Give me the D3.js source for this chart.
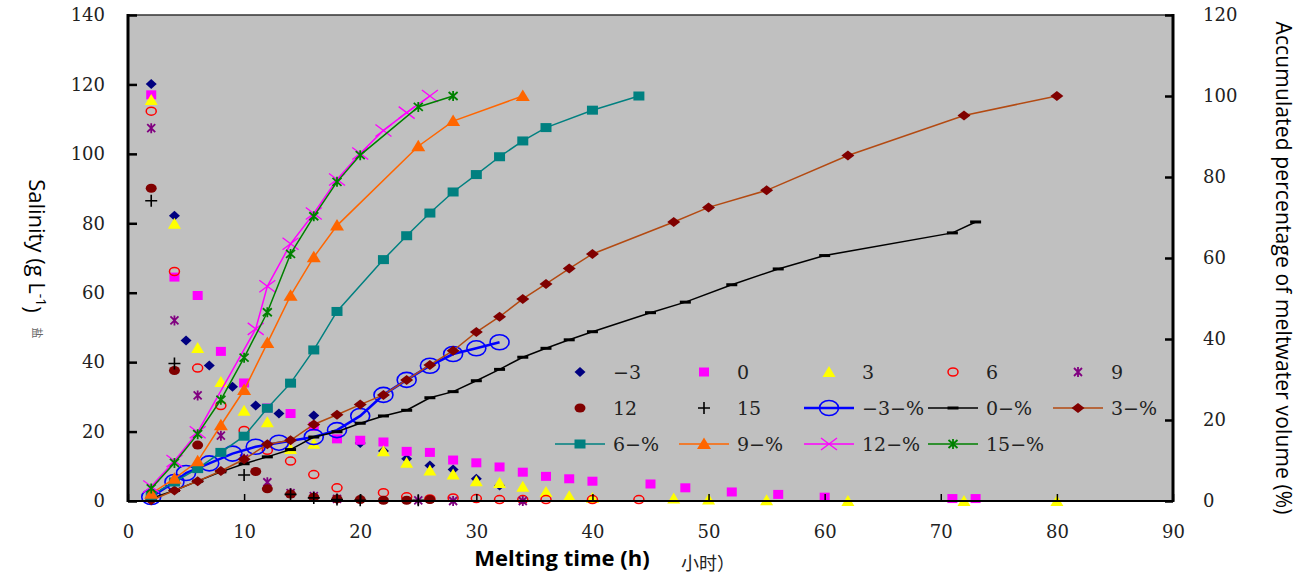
<!DOCTYPE html>
<html>
<head>
<meta charset="utf-8">
<title>Salinity and meltwater</title>
<script src="https://cdn.jsdelivr.net/npm/d3@7/dist/d3.min.js"></script>
<style>
  body { margin: 0; background: #fff; }
  svg { display: block; }
  .tick { font-family: "DejaVu Serif", serif; font-size: 18px; fill: #222; }
  .leg { font-family: "DejaVu Serif", serif; font-size: 19px; fill: #222; }
</style>
</head>
<body>
<script>
// ---- salinity of meltwater (g/L), left axis ----
var tM3 = [2,4,5,7,9,11,13,16,20,22,24,26,28,30,32];
var sM3 = [120.1,82.2,46.2,39,32.9,27.5,25.2,24.6,16.7,14.4,12.2,10.2,9.1,6.4,4.5];
var t0 = [2,4,6,8,10,12,14,16,18,20,22,24,26,28,30,32,34,36,38,40,45,48,52,56,60,71,73];
var s0 = [117,64.5,59.2,43.1,34,26.8,25.2,21.5,17.9,17.5,17,14.3,14,11.8,11,9.8,8.3,7.1,6.4,5.7,4.9,3.8,2.6,1.9,1.1,0.7,0.7];
var t3 = [2,4,6,8,10,12,14,16,22,24,26,28,30,32,34,36,38,40,47,50,55,62,72,80];
var s3 = [115.5,79.9,44.1,34.3,26,22.7,15,16.5,14.3,11,8.8,7.6,5.7,5.2,4.1,2.6,1.4,0.9,0.7,0.4,0.2,0,0,0];
var t6 = [2,4,6,8,10,12,14,16,18,22,24,26,28,30,32,34,36,40,44];
var s6 = [112.3,66.1,38.3,27.5,20.3,14.6,11.5,7.6,3.8,2.4,1.2,0.6,0.9,0.7,0.4,0.4,0.4,0.4,0.4];
var t9 = [2,4,6,8,10,12,14,16,18,25,28,34];
var s9 = [107.4,52,30.4,18.8,12.2,5.4,2.3,1.4,0.6,0.2,0,0];
var t12 = [2,4,6,11,12,14,16,18,20,22,24,26];
var s12 = [90.1,37.6,16.1,8.5,3.5,2.0,1.1,0.6,0.4,0.2,0.2,0.4];
var t15 = [2,4,10,14,16,18,20,25];
var s15 = [86.5,39.6,7.5,1.9,0.9,0.4,0.2,0.2];

// ---- accumulated meltwater volume (%), right axis ----
var pM3 = [1.0,4.7,6.9,9.3,11.7,13.4,14.4,15.8,17.5,21.0,26.2,29.9,33.4,36.3,37.7,39.2];
var ptM3 = [2,4,5,7,9,11,13,16,18,20,22,24,26,28,30,32];
var p0 = [0.6,2.6,4.9,7.2,9.2,10.9,12.7,15.8,17.1,19.2,21.0,22.4,25.5,27.0,29.7,32.5,35.5,37.7,39.8,41.8,46.5,49.1,53.4,57.3,60.6,66.2,68.9];
var pt3 = [2,4,6,8,10,12,14,16,18,20,22,24,26,28,30,32,34,36,38,40,47,50,55,62,72,80];
var p3 = [0.2,2.6,4.9,7.4,10.3,14.0,15.0,18.9,21.3,23.8,26.2,29.9,33.6,37.1,41.7,45.5,49.9,53.6,57.4,61.0,68.9,72.5,76.7,85.3,95.2,100];
var p6 = [1.4,4.7,8.0,12.0,16.0,22.9,29.1,37.3,46.8,59.6,65.5,71.1,76.3,80.6,85.0,88.9,92.2,96.5,100];
var pt9 = [2,4,6,8,10,12,14,16,18,25,28,34];
var p9 = [1.8,5.5,9.8,18.7,27.4,39.0,50.7,60.2,68.0,87.6,93.8,100];
var p12 = [3.6,9.9,17.0,42.5,53.0,63.5,71.0,79.4,85.8,91.5,95.9,100];
var pt15 = [2,4,6,8,10,12,14,16,18,20,25,28];
var p15 = [3.1,9.4,16.5,25.0,35.4,46.6,61.0,70.3,78.8,85.4,97.3,100];

var xTicks = [0,10,20,30,40,50,60,70,80,90];
var yLTicks = [0,20,40,60,80,100,120,140];
var yRTicks = [0,20,40,60,80,100,120];

var W = 1298, H = 577;
var L = 128, R = 1173, T = 15, B = 501;

var x = d3.scaleLinear().domain([0, 90]).range([L, R]);
var yL = d3.scaleLinear().domain([0, 140]).range([B, T]);
var yR = d3.scaleLinear().domain([0, 120]).range([B, T]);

var svg = d3.select('body').append('svg').attr('width', W).attr('height', H);

svg.append('rect').attr('x', L).attr('y', T).attr('width', R - L).attr('height', B - T)
  .attr('fill', '#c0c0c0');

// marker painter
function marker(g, type, cx, cy) {
  switch (type) {
    case 'diamond':
      g.append('path').attr('d', 'M' + cx + ',' + (cy - 5) + 'L' + (cx + 5.5) + ',' + cy + 'L' + cx + ',' + (cy + 5) + 'L' + (cx - 5.5) + ',' + cy + 'Z')
        .attr('fill', '#000080'); break;
    case 'square':
      g.append('rect').attr('x', cx - 5).attr('y', cy - 4.5).attr('width', 10).attr('height', 9).attr('fill', '#ff00ff'); break;
    case 'triangle':
      g.append('path').attr('d', 'M' + cx + ',' + (cy - 6) + 'L' + (cx + 6.5) + ',' + (cy + 5) + 'L' + (cx - 6.5) + ',' + (cy + 5) + 'Z')
        .attr('fill', '#ffff00'); break;
    case 'ring':
      g.append('ellipse').attr('cx', cx).attr('cy', cy).attr('rx', 5).attr('ry', 4)
        .attr('fill', 'none').attr('stroke', '#ff0000').attr('stroke-width', 1.5); break;
    case 'star9':
      g.append('path').attr('d', 'M' + (cx - 4) + ',' + (cy - 4) + 'L' + (cx + 4) + ',' + (cy + 4) + 'M' + (cx + 4) + ',' + (cy - 4) + 'L' + (cx - 4) + ',' + (cy + 4) + 'M' + cx + ',' + (cy - 5) + 'L' + cx + ',' + (cy + 5))
        .attr('stroke', '#800080').attr('stroke-width', 1.8); break;
    case 'dot':
      g.append('ellipse').attr('cx', cx).attr('cy', cy).attr('rx', 5.5).attr('ry', 4.5).attr('fill', '#800000'); break;
    case 'plus':
      g.append('path').attr('d', 'M' + (cx - 6) + ',' + cy + 'L' + (cx + 6) + ',' + cy + 'M' + cx + ',' + (cy - 6) + 'L' + cx + ',' + (cy + 6))
        .attr('stroke', '#000').attr('stroke-width', 1.6); break;
    case 'bigring':
      g.append('ellipse').attr('cx', cx).attr('cy', cy).attr('rx', 9.5).attr('ry', 7.5)
        .attr('fill', 'none').attr('stroke', '#0000ff').attr('stroke-width', 1.6); break;
    case 'dash':
      g.append('rect').attr('x', cx - 5.5).attr('y', cy - 1.5).attr('width', 11).attr('height', 3).attr('fill', '#000'); break;
    case 'rdiamond':
      g.append('path').attr('d', 'M' + cx + ',' + (cy - 5) + 'L' + (cx + 6.5) + ',' + cy + 'L' + cx + ',' + (cy + 5) + 'L' + (cx - 6.5) + ',' + cy + 'Z')
        .attr('fill', '#800000'); break;
    case 'tsquare':
      g.append('rect').attr('x', cx - 5.5).attr('y', cy - 4.5).attr('width', 11).attr('height', 9).attr('fill', '#008080'); break;
    case 'otriangle':
      g.append('path').attr('d', 'M' + cx + ',' + (cy - 6.5) + 'L' + (cx + 7) + ',' + (cy + 5) + 'L' + (cx - 7) + ',' + (cy + 5) + 'Z')
        .attr('fill', '#ff6600'); break;
    case 'cross':
      g.append('path').attr('d', 'M' + (cx - 8) + ',' + (cy - 6) + 'L' + (cx + 8) + ',' + (cy + 6) + 'M' + (cx + 8) + ',' + (cy - 6) + 'L' + (cx - 8) + ',' + (cy + 6))
        .attr('stroke', '#ff00ff').attr('stroke-width', 1.3); break;
    case 'gstar':
      g.append('path').attr('d', 'M' + (cx - 4.5) + ',' + (cy - 4) + 'L' + (cx + 4.5) + ',' + (cy + 4) + 'M' + (cx + 4.5) + ',' + (cy - 4) + 'L' + (cx - 4.5) + ',' + (cy + 4) + 'M' + cx + ',' + (cy - 5) + 'L' + cx + ',' + (cy + 5))
        .attr('stroke', '#008000').attr('stroke-width', 1.8); break;
  }
}

var scatter = [
  { name: '\u22123', t: tM3, v: sM3, m: 'diamond' },
  { name: '0', t: t0, v: s0, m: 'square' },
  { name: '3', t: t3, v: s3, m: 'triangle' },
  { name: '6', t: t6, v: s6, m: 'ring' },
  { name: '9', t: t9, v: s9, m: 'star9' },
  { name: '12', t: t12, v: s12, m: 'dot' },
  { name: '15', t: t15, v: s15, m: 'plus' }
];
var lines = [
  { name: '\u22123\u2212%', t: ptM3, v: pM3, m: 'bigring', c: '#0000ff', w: 2.6 },
  { name: '0\u2212%', t: t0, v: p0, m: 'dash', c: '#000000', w: 1.5 },
  { name: '3\u2212%', t: pt3, v: p3, m: 'rdiamond', c: '#b34a12', w: 1.5 },
  { name: '6\u2212%', t: t6, v: p6, m: 'tsquare', c: '#008080', w: 1.5 },
  { name: '9\u2212%', t: pt9, v: p9, m: 'otriangle', c: '#ff6600', w: 1.5 },
  { name: '12\u2212%', t: t12, v: p12, m: 'cross', c: '#ff00ff', w: 1.5 },
  { name: '15\u2212%', t: pt15, v: p15, m: 'gstar', c: '#008000', w: 1.5 }
];

var plot = svg.append('g');
scatter.forEach(function (s) {
  var g = plot.append('g');
  s.t.forEach(function (t, i) { marker(g, s.m, x(t), yL(s.v[i])); });
});
var line = d3.line().x(function (d) { return x(d[0]); }).y(function (d) { return yR(d[1]); });
lines.forEach(function (s) {
  var g = plot.append('g');
  var pts = s.t.map(function (t, i) { return [t, s.v[i]]; });
  g.append('path').attr('d', line(pts)).attr('fill', 'none').attr('stroke', s.c).attr('stroke-width', s.w);
  pts.forEach(function (p) { marker(g, s.m, x(p[0]), yR(p[1])); });
});

// frame
svg.append('line').attr('x1', L).attr('x2', R).attr('y1', T).attr('y2', T).attr('stroke', '#333').attr('stroke-width', 1.5);
svg.append('line').attr('x1', L).attr('x2', R).attr('y1', B).attr('y2', B).attr('stroke', '#000').attr('stroke-width', 2);
svg.append('line').attr('x1', L).attr('x2', L).attr('y1', T - 1).attr('y2', B + 1).attr('stroke', '#000').attr('stroke-width', 3);
svg.append('line').attr('x1', R).attr('x2', R).attr('y1', T - 1).attr('y2', B + 1).attr('stroke', '#000').attr('stroke-width', 3);

// axes
var axL = d3.axisLeft(yL).tickValues(yLTicks).tickSize(-9).tickPadding(23);
var gL = svg.append('g').attr('transform', 'translate(' + L + ',0)').call(axL);
var axR = d3.axisRight(yR).tickValues(yRTicks).tickSize(-8).tickPadding(30);
var gR = svg.append('g').attr('transform', 'translate(' + R + ',0)').call(axR);
var axB = d3.axisBottom(x).tickValues(xTicks).tickSize(-7).tickPadding(35);
var gB = svg.append('g').attr('transform', 'translate(0,' + B + ')').call(axB);
[gL, gR, gB].forEach(function (g) {
  g.select('.domain').remove();
  g.selectAll('.tick line').attr('stroke', '#000').attr('stroke-width', 2.5);
  g.selectAll('.tick text').attr('class', 'tick').attr('fill', '#222').style('font-family', '"DejaVu Serif", serif').style('font-size', '18px');
});
gB.selectAll('.tick line').attr('stroke-width', 1.5);
gB.selectAll('.tick text').attr('dy', '0.1em');

// legend
var colX = [580, 704, 829, 953, 1078];
var rowY = [372, 408, 444];
var legItems = scatter.concat(lines);
legItems.forEach(function (s, i) {
  var col = i % 5, row = Math.floor(i / 5);
  var cx = colX[col], cy = rowY[row];
  var g = svg.append('g');
  if (s.c) {
    g.append('line').attr('x1', cx - 25).attr('x2', cx + 25).attr('y1', cy).attr('y2', cy)
      .attr('stroke', s.c).attr('stroke-width', s.w);
  }
  marker(g, s.m, cx, cy);
  g.append('text').attr('class', 'leg').attr('x', cx + 33).attr('y', cy).attr('dy', '0.36em').text(s.name);
});

// axis titles
var tl = svg.append('text').attr('transform', 'translate(29,246) rotate(90)')
  .attr('text-anchor', 'middle').style('font-family', '"Open Sans", sans-serif').style('font-size', '22px').attr('fill', '#000');
tl.append('tspan').text('Salinity (g L');
tl.append('tspan').attr('dy', '-0.5em').style('font-size', '14px').text('-1');
tl.append('tspan').attr('dy', '0.5em').text(')');
svg.append('text').attr('transform', 'translate(33,333) rotate(90)').attr('text-anchor', 'middle')
  .style('font-family', '"Noto Sans CJK SC", sans-serif').style('font-size', '11px').attr('fill', '#666').text('盐');

svg.append('text').attr('transform', 'translate(1276,268) rotate(90)')
  .attr('text-anchor', 'middle').style('font-family', '"Open Sans", sans-serif').style('font-size', '21px').attr('fill', '#000')
  .attr('textLength', 493).attr('lengthAdjust', 'spacing')
  .text('Accumulated percentage of meltwater volume (%)');

svg.append('text').attr('x', 562).attr('y', 566).attr('text-anchor', 'middle')
  .style('font-family', '"Open Sans", sans-serif').style('font-size', '22px').style('font-weight', 'bold').attr('fill', '#000')
  .text('Melting time (h)');
svg.append('text').attr('x', 681).attr('y', 570)
  .style('font-family', '"Noto Sans CJK SC", sans-serif').style('font-size', '18px').attr('fill', '#222')
  .text('小时）');
</script>
</body>
</html>
